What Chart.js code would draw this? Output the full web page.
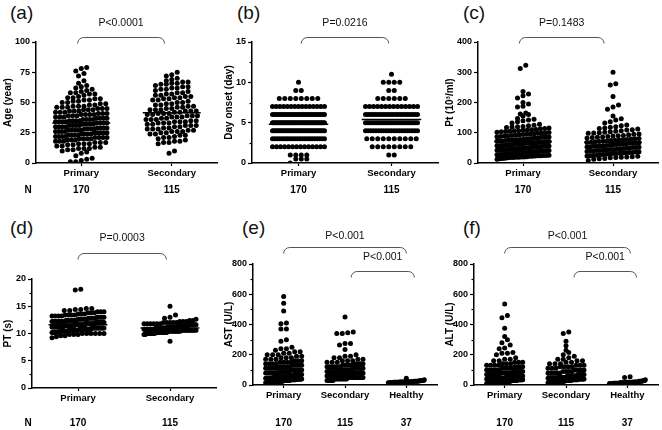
<!DOCTYPE html>
<html>
<head>
<meta charset="utf-8">
<script src="https://cdn.jsdelivr.net/npm/chart.js@4.4.1/dist/chart.umd.min.js"></script>
<style>
  body { margin: 0; background: #fff; }
  #wrap { position: relative; width: 662px; height: 430px; font-family: 'Liberation Sans', Arial, sans-serif; }
  .tag { position: absolute; font-size: 19px; line-height: 19px; color: #111; }
</style>
</head>
<body>
<div id="wrap">
  <span class="tag" style="left:10px;top:3px">(a)</span>
  <span class="tag" style="left:237px;top:3px">(b)</span>
  <span class="tag" style="left:463px;top:3px">(c)</span>
  <span class="tag" style="left:10px;top:218px">(d)</span>
  <span class="tag" style="left:242px;top:218px">(e)</span>
  <span class="tag" style="left:463px;top:218px">(f)</span>
</div>
<script>
// categories and group sizes
const twoGroups = ['Primary', 'Secondary'];
const threeGroups = ['Primary', 'Secondary', 'Healthy'];
const groupSizes = ['170', '115', '37'];

// (a) age, years
const agePrimary = [1,1,2,3,4,6,8,9,
  10,11,11,12,12,12,13,13,14,14,
  15,15,16,16,16,17,17,17,18,18,18,19,19,19,
  20,20,20,20,21,21,21,21,22,22,22,22,23,23,23,23,24,24,24,24,
  25,25,25,25,25,26,26,26,26,27,27,27,27,27,28,28,28,28,29,29,29,29,
  30,30,30,30,31,31,31,31,32,32,32,32,33,33,33,33,34,34,34,34,
  35,35,35,35,36,36,36,36,37,37,37,37,38,38,38,39,39,39,
  40,40,40,40,41,41,41,42,42,42,43,43,43,44,44,44,
  45,45,45,46,46,46,47,47,47,48,48,49,49,
  50,50,51,51,52,52,53,53,54,54,
  55,56,57,57,58,58,59,
  60,61,62,63,64,
  66,68,72,74,76,78,79];
const ageSecondary = [8,10,
  16,17,17,18,18,19,
  20,21,21,22,23,23,24,24,
  25,25,26,26,26,27,27,28,28,28,29,29,
  30,30,31,31,31,32,32,33,33,33,34,34,34,
  35,35,36,36,36,37,37,38,38,38,39,39,39,
  40,40,41,41,41,42,42,43,43,43,44,44,44,
  45,45,46,46,47,47,48,48,49,49,
  50,50,51,52,52,53,53,54,54,
  55,55,56,56,57,57,58,58,59,
  60,61,61,62,62,63,63,64,
  65,65,66,66,67,67,68,69,
  70,72,73,75];
const ageMedians = [33, 41.5];

// (b) day of onset: [value, count]
const dayPrimary = [[0,1],[0.5,3],[1,4],[2,14],[3,22],[4,34],[5,39],[6,27],[7,15],[8,8],[9,2],[10,1]];
const daySecondary = [[1,2],[2,8],[3,10],[4,21],[5,25],[6,22],[7,14],[8,6],[9,2],[10,4],[11,1]];
const dayMedians = [4.8, 5.4];

// (c) platelets, 10^3/ml
const pltPrimary = [12,14,15,16,17,18,18,19,19,
  20,20,21,22,22,23,24,24,25,25,26,27,27,28,28,29,
  30,30,31,31,32,33,33,34,34,35,35,36,36,37,37,38,38,39,
  40,40,41,41,42,43,43,44,44,45,45,46,46,47,47,48,48,49,
  50,50,51,52,52,53,54,54,55,55,56,56,57,57,58,58,59,
  60,60,61,62,62,63,64,65,65,66,67,67,68,69,69,
  70,70,71,72,73,73,74,75,75,76,77,78,78,79,
  80,81,82,83,84,85,85,86,87,88,89,
  90,91,92,93,94,95,96,97,98,99,
  100,101,102,103,104,105,106,107,108,109,
  110,111,113,114,116,117,119,
  120,121,123,125,128,
  132,136,140,142,145,147,155,160,162,165,185,188,195,200,215,222,228,236,312,323];
const pltSecondary = [8,12,14,15,17,18,19,
  20,21,22,23,24,25,26,27,28,29,
  30,31,31,32,33,34,35,35,36,37,38,39,
  40,41,41,42,43,44,45,45,46,47,48,49,
  50,51,51,52,53,54,55,55,56,57,58,59,
  60,61,62,63,64,65,65,66,67,68,69,
  70,71,72,73,74,75,76,77,78,79,
  80,81,83,84,85,86,88,89,
  90,91,93,95,96,98,99,
  100,102,103,105,107,109,
  110,112,114,116,118,
  120,123,126,132,136,142,146,155,178,185,192,220,258,262,300];
const pltMedians = [71, 69];

// (d) prothrombin time, s: [value, count]
const ptPrimary = [[9.2,1],[9.4,1],[9.6,2],[9.8,3],[10,6],[10.2,7],[10.4,8],[10.6,10],[10.8,11],
  [11,12],[11.2,12],[11.4,11],[11.6,11],[11.8,10],[12,9],[12.2,8],[12.4,7],[12.6,6],[12.8,5],
  [13,5],[13.2,4],[13.4,4],[13.6,3],[13.8,3],[14,3],[14.2,2],[14.4,2],[14.6,2],[18,1],[18.1,1]];
const ptSecondary = [[8.6,1],[9.8,2],[10,7],[10.2,9],[10.4,10],[10.6,12],[10.8,12],[11,12],
  [11.2,11],[11.4,10],[11.6,8],[11.8,6],[12,5],[12.2,3],[12.4,2],[12.6,1],[12.8,1],[13,1],[13.4,1],[15,1]];
const ptMedians = [11.6, 11.0];

// (e) AST, U/L: [value, count]
const astPrimary = [[15,6],[20,10],[25,10],[30,10],[35,9],[40,9],[45,8],[50,8],[55,7],[60,7],
  [70,9],[80,8],[90,7],[100,7],[110,6],[120,5],[130,5],[140,4],[150,4],[160,3],[170,3],[180,3],
  [190,2],[200,3],[210,2],[220,2],[230,1],[240,2],[250,1],[290,1],[300,1],[370,2],[405,1],
  [410,1],[490,1],[540,1],[585,1]];
const astSecondary = [[30,5],[40,9],[50,11],[60,11],[70,10],[80,9],[90,8],[100,8],[110,7],
  [120,6],[130,5],[140,4],[150,3],[160,3],[170,2],[180,2],[190,2],[200,1],[235,1],[265,1],
  [275,2],[340,2],[345,1],[350,1],[450,1]];
const astHealthy = [[15,5],[18,6],[20,8],[22,6],[25,5],[28,3],[30,2],[35,1],[45,1]];
const astMedians = [72, 86, 22];

// (f) ALT, U/L: [value, count]
const altPrimary = [[10,8],[15,11],[20,13],[25,13],[30,12],[35,11],[40,10],[45,9],[50,8],
  [60,10],[70,8],[80,7],[90,6],[100,6],[110,5],[120,4],[130,4],[140,3],[150,3],[160,2],[170,2],
  [180,1],[200,1],[210,2],[215,1],[240,1],[245,1],[265,1],[280,1],[300,1],[320,1],[375,1],
  [445,1],[460,1],[535,1]];
const altSecondary = [[15,5],[20,8],[25,8],[30,8],[35,8],[40,8],[45,8],[50,7],[60,8],[70,6],
  [80,5],[90,4],[100,4],[110,3],[120,4],[130,3],[140,3],[150,2],[160,2],[170,2],[180,1],[190,1],
  [200,1],[215,1],[230,1],[260,1],[290,1],[340,1],[350,1]];
const altHealthy = [[8,4],[12,6],[15,7],[18,6],[20,5],[25,4],[30,2],[35,1],[50,1],[55,1]];
const altMedians = [45, 60, 20];

const FONT = "'Liberation Sans', Arial, sans-serif";
const wrap = document.getElementById('wrap');

const expand = list => list.flatMap(d => Array.isArray(d) ? Array(d[1]).fill(d[0]) : [d]);

// Prism-style scatter: values close together share a row and are spread sideways
function swarm(values, center, rowH, step, half) {
  const sorted = values.slice().sort((a, b) => a - b);
  const pts = [];
  let row = [];
  const flush = () => {
    const k = row.length;
    const s = k > 1 ? Math.min(step, 2 * half / (k - 1)) : 0;
    row.forEach((v, i) => pts.push({ x: center + (i - (k - 1) / 2) * s, y: v }));
    row = [];
  };
  sorted.forEach(v => {
    if (row.length && v - row[0] >= rowH) flush();
    row.push(v);
  });
  if (row.length) flush();
  return pts;
}

const annotPlugin = {
  id: 'annot',
  afterDraw(chart, args, o) {
    const { ctx, chartArea } = chart;
    const xs = chart.scales.x, ys = chart.scales.y;
    ctx.save();
    ctx.strokeStyle = '#000';
    ctx.lineWidth = 1.2;
    (o.minor || []).forEach(v => {
      const py = Math.round(ys.getPixelForValue(v)) + 0.5;
      ctx.beginPath();
      ctx.moveTo(chartArea.left - 2.5, py);
      ctx.lineTo(chartArea.left, py);
      ctx.stroke();
    });
    ctx.strokeStyle = '#555';
    ctx.lineWidth = 1;
    ctx.fillStyle = '#111';
    ctx.textAlign = 'center';
    ctx.textBaseline = 'middle';
    ctx.font = `10.5px ${FONT}`;
    (o.brackets || []).forEach(b => {
      const x0 = xs.getPixelForValue(b.from), x1 = xs.getPixelForValue(b.to);
      const r = 6, t = b.top + 0.5;
      ctx.beginPath();
      ctx.moveTo(x0, t + r);
      ctx.arcTo(x0, t, x0 + r, t, r);
      ctx.lineTo(x1 - r, t);
      ctx.arcTo(x1, t, x1, t + r, r);
      ctx.stroke();
      ctx.fillText(b.text, (x0 + x1) / 2, b.textY);
    });
    ctx.font = `bold 10px ${FONT}`;
    ctx.fillStyle = '#000';
    xs.ticks.forEach((t, i) => ctx.fillText(groupSizes[i], xs.getPixelForValue(t.value), o.sizeY));
    if (o.nX) ctx.fillText('N', o.nX, o.sizeY);
    ctx.restore();
  }
};

function makePanel(p) {
  const canvas = document.createElement('canvas');
  canvas.width = p.w;
  canvas.height = 215;
  canvas.style.cssText = `position:absolute;left:${p.x}px;top:${p.y}px;width:${p.w}px;height:215px`;
  wrap.appendChild(canvas);

  const nCat = p.cats.length;
  const ppu = (p.right - p.left) / nCat;
  const rowH = p.yMax * 4.5 / (p.bottom - p.top);
  const half = (nCat === 2 ? 26 : 18) / ppu;
  const lineHalf = nCat === 2 ? 0.32 : 0.31;
  const xH = 20;

  const datasets = [];
  p.groups.forEach((g, i) => {
    datasets.push({
      type: 'scatter',
      data: swarm(expand(g), i, rowH, 5.5 / ppu, half),
      pointRadius: 2.5,
      pointBackgroundColor: '#000',
      pointBorderWidth: 0,
      order: 2
    });
    datasets.push({
      type: 'line',
      data: [{ x: i - lineHalf, y: p.medians[i] }, { x: i + lineHalf, y: p.medians[i] }],
      borderColor: '#000',
      borderWidth: 1.5,
      pointRadius: 0,
      order: 1
    });
  });

  new Chart(canvas, {
    type: 'scatter',
    data: { datasets },
    plugins: [annotPlugin],
    options: {
      responsive: false,
      animation: false,
      events: [],
      layout: { padding: { left: 0, right: p.w - p.right, top: p.top, bottom: 215 - p.bottom - xH } },
      plugins: {
        legend: { display: false },
        tooltip: { enabled: false },
        annot: { brackets: p.brackets, minor: p.minor, sizeY: p.sizeY, nX: p.nX }
      },
      scales: {
        x: {
          type: 'linear',
          min: -0.5,
          max: nCat - 0.5,
          afterBuildTicks: s => { s.ticks = p.cats.map((c, i) => ({ value: i })); },
          afterFit: s => { s.height = xH; },
          ticks: {
            callback: v => p.cats[v],
            font: { family: FONT, size: 9.5, weight: 'bold' },
            color: '#000',
            padding: 2,
            maxRotation: 0,
            autoSkip: false
          },
          grid: { drawOnChartArea: false, tickLength: 3, tickColor: '#000', tickWidth: 1.2 },
          border: { color: '#000', width: 1.5 }
        },
        y: {
          min: 0,
          max: p.yMax,
          afterFit: s => { s.width = p.left; },
          ticks: {
            stepSize: p.step,
            font: { family: FONT, size: 9, weight: 'bold' },
            color: '#000',
            padding: 2
          },
          grid: { drawOnChartArea: false, tickLength: 4, tickColor: '#000', tickWidth: 1.2 },
          border: { color: '#000', width: 1.5 },
          title: {
            display: true,
            text: p.title,
            font: { family: FONT, size: 10, weight: 'bold' },
            color: '#000',
            padding: { top: 2, bottom: 0 }
          }
        }
      }
    }
  });
}

makePanel({ x: 0, y: 0, w: 221, left: 36, right: 219, top: 42, bottom: 163,
  cats: twoGroups, groups: [agePrimary, ageSecondary], medians: ageMedians,
  yMax: 100, step: 25, title: 'Age (year)',
  brackets: [{ from: -0.04, to: 0.92, top: 37, textY: 23, text: 'P<0.0001' }], sizeY: 190, nX: 28 });

makePanel({ x: 221, y: 0, w: 221, left: 31, right: 217, top: 42, bottom: 163,
  cats: twoGroups, groups: [dayPrimary, daySecondary], medians: dayMedians,
  yMax: 15, step: 5, minor: [2.5, 7.5, 12.5], title: 'Day onset (day)',
  brackets: [{ from: 0.03, to: 0.97, top: 37, textY: 23, text: 'P=0.0216' }], sizeY: 190 });

makePanel({ x: 442, y: 0, w: 220, left: 36, right: 216, top: 42, bottom: 163,
  cats: twoGroups, groups: [pltPrimary, pltSecondary], medians: pltMedians,
  yMax: 400, step: 100, title: 'Pt (10³/ml)',
  brackets: [{ from: -0.04, to: 0.9, top: 37, textY: 23, text: 'P=0.1483' }], sizeY: 190 });

makePanel({ x: 0, y: 215, w: 221, left: 32, right: 216, top: 64, bottom: 173,
  cats: twoGroups, groups: [ptPrimary, ptSecondary], medians: ptMedians,
  yMax: 20, step: 5, minor: [2.5, 7.5, 12.5, 17.5], title: 'PT (s)',
  brackets: [{ from: 0, to: 0.96, top: 38, textY: 23, text: 'P=0.0003' }], sizeY: 208, nX: 28 });

makePanel({ x: 221, y: 215, w: 221, left: 32, right: 216, top: 49, bottom: 170,
  cats: threeGroups, groups: [astPrimary, astSecondary, astHealthy], medians: astMedians,
  yMax: 800, step: 200, minor: [100, 300, 500, 700], title: 'AST (U/L)',
  brackets: [{ from: 0, to: 2, top: 32, textY: 21, text: 'P<0.001' },
             { from: 1.1, to: 2.13, top: 56, textY: 42, text: 'P<0.001' }], sizeY: 208 });

makePanel({ x: 442, y: 215, w: 220, left: 32, right: 216, top: 49, bottom: 170,
  cats: threeGroups, groups: [altPrimary, altSecondary, altHealthy], medians: altMedians,
  yMax: 800, step: 200, minor: [100, 300, 500, 700], title: 'ALT (U/L)',
  brackets: [{ from: 0, to: 2.05, top: 32, textY: 21, text: 'P<0.001' },
             { from: 1.13, to: 2.15, top: 56, textY: 42, text: 'P<0.001' }], sizeY: 208 });
</script>
</body>
</html>
